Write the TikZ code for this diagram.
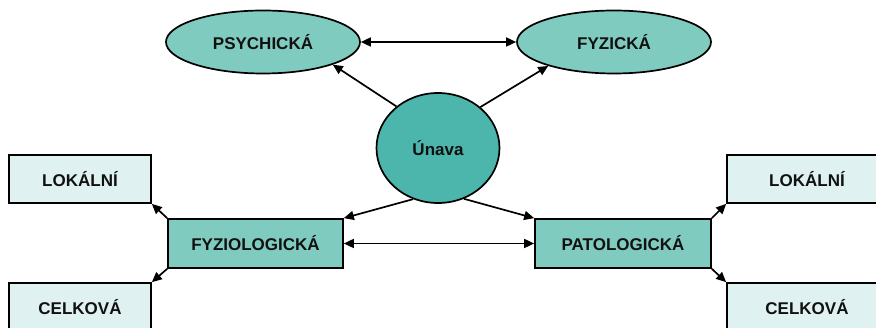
\documentclass[tikz,border=0pt]{standalone}
\usepackage{fontspec}
\setmainfont{Liberation Sans}
\usetikzlibrary{shapes.geometric,arrows.meta}
\definecolor{ellfill}{HTML}{80CBC0}
\definecolor{circfill}{HTML}{4DB6AC}
\definecolor{lightfill}{HTML}{DFF2F1}
\definecolor{txt}{HTML}{111111}
\tikzset{
  base/.style={draw=black, line width=1.7pt, inner sep=0pt, text=txt, font=\fontsize{17}{19}\selectfont\bfseries},
  ell/.style={base, ellipse, fill=ellfill, minimum width=194pt, minimum height=63pt},
  hub/.style={base, ellipse, fill=circfill, minimum width=123pt, minimum height=110pt},
  midbox/.style={base, rectangle, fill=ellfill, minimum height=49pt},
  leafbox/.style={base, rectangle, fill=lightfill, minimum height=48pt},
  conn/.style={line width=1.7pt, -{Triangle[length=10pt,width=9pt]}},
  dconn/.style={line width=1.7pt, {Triangle[length=10pt,width=9pt]}-{Triangle[length=10pt,width=9pt]}}
}
\begin{document}
\begin{tikzpicture}[x=1pt,y=-1pt]
\useasboundingbox (0,0) rectangle (876,328);
\node[ell] (psych) at (263,42) {PSYCHICKÁ};
\node[ell] (fyz) at (614,42) {FYZICKÁ};
\node[hub] (unava) at (438,148) {Únava};
\node[midbox, minimum width=175pt] (fyzio) at (255.5,243.5) {FYZIOLOGICKÁ};
\node[midbox, minimum width=176pt] (pato) at (623,243.5) {PATOLOGICKÁ};
\node[leafbox, minimum width=142pt] (lokL) at (80,179) {LOKÁLNÍ};
\node[leafbox, minimum width=142pt] (celL) at (80,307) {CELKOVÁ};
\node[leafbox, minimum width=160pt] (lokR) at (807,179) {LOKÁLNÍ};
\node[leafbox, minimum width=160pt] (celR) at (807,307) {CELKOVÁ};

\draw[dconn] (psych.east) -- (fyz.west);
\draw[conn] (unava.135) -- (psych.-18);
\draw[conn] (unava.44) -- (fyz.200);
\draw[conn] (unava.-116.6) -- (fyzio.north east);
\draw[conn] (unava.-63.4) -- (pato.north west);
\draw[dconn] (fyzio.east) -- (pato.west);
\draw[conn] (fyzio.north west) -- (lokL.south east);
\draw[conn] (fyzio.south west) -- (celL.north east);
\draw[conn] (pato.north east) -- (lokR.south west);
\draw[conn] (pato.south east) -- (celR.north west);
\end{tikzpicture}
\end{document}
